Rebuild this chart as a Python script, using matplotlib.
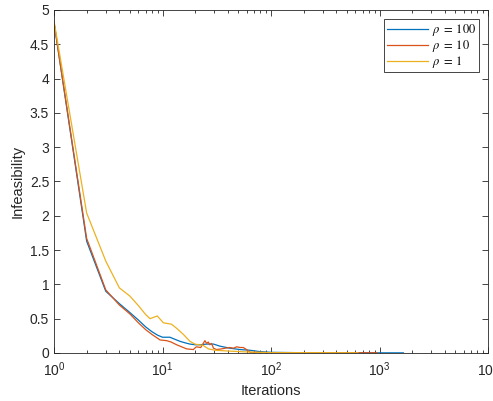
import numpy as np
import matplotlib
matplotlib.use("Agg")
import matplotlib.pyplot as plt
from matplotlib.ticker import LogLocator, FixedLocator, NullFormatter

plt.rcParams["font.family"] = ["Liberation Sans", "DejaVu Sans"]
plt.rcParams["mathtext.fontset"] = "stix"

# rho = 100
it_100 = [1, 2, 3, 4, 5, 6, 7, 8, 9, 10, 11.7, 13, 14.5, 16, 17.9, 20, 22.2,
          25.5, 29.5, 33.8, 41.8, 51.9, 64.2, 79, 100, 200, 1660]
inf_100 = [4.82, 1.63, 0.90, 0.72, 0.59, 0.48, 0.38, 0.31, 0.26, 0.23, 0.23,
           0.20, 0.17, 0.15, 0.13, 0.12, 0.12, 0.13, 0.13, 0.10, 0.07, 0.05,
           0.04, 0.02, 0.01, 0.004, 0.002]

# rho = 10
it_10 = [1, 2, 3, 4, 5, 6, 7, 8, 9.5, 10.9, 12, 13.5, 15, 16.7, 19.2, 20.5,
         22.5, 24.6, 25.5, 26.4, 27.3, 28.3, 29.5, 31.5, 35, 38, 41.8, 45,
         48.3, 52, 55.5, 59.6, 64.2, 100, 950]
inf_10 = [4.82, 1.67, 0.92, 0.70, 0.57, 0.44, 0.34, 0.27, 0.19, 0.18, 0.16,
          0.12, 0.09, 0.06, 0.05, 0.09, 0.08, 0.18, 0.14, 0.16, 0.12, 0.14,
          0.07, 0.05, 0.06, 0.07, 0.08, 0.07, 0.09, 0.08, 0.08, 0.05, 0.01,
          0.005, 0.003]

# rho = 1
it_1 = [1, 2, 3, 4, 5, 6, 7, 7.67, 8.95, 10.2, 12.1, 13.5, 15.6, 17.9, 19.9,
        23.7, 26.5, 30.5, 39, 60, 100, 633]
inf_1 = [4.84, 2.04, 1.34, 0.95, 0.83, 0.69, 0.56, 0.50, 0.54, 0.44, 0.42,
         0.36, 0.27, 0.17, 0.13, 0.11, 0.06, 0.04, 0.03, 0.015, 0.005, 0.003]

fig = plt.figure(figsize=(4.93, 4.01), dpi=100)
ax = fig.add_axes([54 / 493, 48 / 401, 434 / 493, 343 / 401])

ax.plot(it_100, inf_100, color="#0072BD", lw=0.9, label=r"$\rho\;=\;100$")
ax.plot(it_10, inf_10, color="#D95319", lw=0.9, label=r"$\rho\;=\;10$")
ax.plot(it_1, inf_1, color="#EDB120", lw=0.9, label=r"$\rho\;=\;1$")

ax.set_xscale("log")
ax.set_xlim(1, 1e4)
ax.set_ylim(0, 5)
ax.yaxis.set_major_locator(FixedLocator(np.arange(0, 5.01, 0.5)))
ax.set_yticklabels(["0", "0.5", "1", "1.5", "2", "2.5", "3", "3.5", "4", "4.5", "5"])
ax.xaxis.set_minor_locator(LogLocator(base=10, subs=np.arange(2, 10)))
ax.xaxis.set_minor_formatter(NullFormatter())

c = "#262626"
for s in ax.spines.values():
    s.set_color(c)
    s.set_linewidth(0.6)
ax.tick_params(which="both", direction="in", top=True, right=True, colors=c,
               labelsize=10, width=0.6)
ax.tick_params(which="major", length=4)
ax.tick_params(which="minor", length=2.5)
ax.tick_params(axis="x", pad=5)

ax.set_xlabel("Iterations", fontsize=10.5, color=c)
ax.set_ylabel("Infeasibility", fontsize=10.5, color=c)

leg = ax.legend(loc="upper right", fontsize=9, fancybox=False, framealpha=1,
                edgecolor=c, borderpad=0.2, handlelength=3.3, handletextpad=0.3,
                labelspacing=0.0, borderaxespad=0.75)
leg.get_frame().set_linewidth(0.6)

fig.savefig("out.png", dpi=100)
